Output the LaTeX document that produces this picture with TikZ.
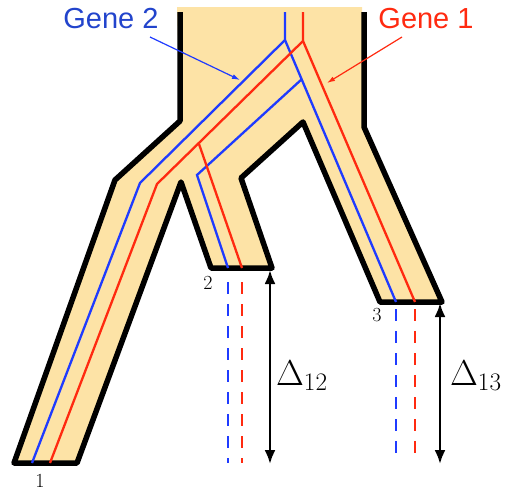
\RequirePackage{fix-cm}
\documentclass[tikz,border=0pt]{standalone}
\usepackage{fontspec}
\newfontfamily\genefont{Liberation Sans}
\usetikzlibrary{arrows.meta}
\definecolor{cfill}{HTML}{FDE3A6}
\definecolor{cblue}{HTML}{1F3BFF}
\definecolor{cred}{HTML}{FF2A10}
\definecolor{ctblue}{HTML}{2244CC}
\tikzset{
  outline/.style={draw=black, line width=5.5pt, line join=round},
  gene/.style={draw=#1, line width=2.3pt},
  stub/.style={draw=#1, line width=2.3pt, dash pattern=on 12pt off 10pt},
  span/.style={{Latex[length=14pt,width=11pt]}-{Latex[length=14pt,width=11pt]}, line width=2.5pt},
  pointer/.style={-{Latex[length=8pt,width=5pt]}, draw=#1, line width=1.2pt},
  genename/.style={font=\genefont\fontsize{29}{32}\selectfont, text=#1, anchor=base, inner sep=0pt},
  leaf/.style={font=\fontsize{20}{22}\selectfont, inner sep=0pt},
  gap/.style={font=\fontsize{36}{40}\selectfont, anchor=base west, inner sep=0pt},
}
\begin{document}
\begin{tikzpicture}[x=1pt, y=-1pt]
  \useasboundingbox (0,0) rectangle (509,491);
  % species tree
  \fill[cfill] (177,7) -- (362,7) -- (364,127) -- (442,302) -- (380,302) -- (303,122) -- (241,178)
    -- (272,268) -- (211,268) -- (181,182) -- (77,463) -- (14,463) -- (115,180) -- (180,121) -- cycle;
  \draw[outline] (180,12) -- (180,121) -- (115,180) -- (14,463) -- (77,463) -- (181,182) -- (211,268)
    -- (272,268) -- (241,178) -- (303,122) -- (380,302) -- (442,302) -- (364,127) -- (364,12);
  % gene 2
  \coordinate (b-top) at (285,12);
  \coordinate (b-root) at (285,40);
  \coordinate (b-kink) at (140,183);
  \coordinate (b-leaf1) at (32,463);
  \coordinate (b-leaf3) at (396,302);
  \coordinate (b-split) at (302,79);
  \coordinate (b-bend) at (197,175);
  \coordinate (b-leaf2) at (228,268);
  \draw[gene=cblue] (b-top) -- (b-root) -- (b-kink) -- (b-leaf1);
  \draw[gene=cblue] (b-root) -- (b-leaf3);
  \draw[gene=cblue] (b-split) -- (b-bend) -- (b-leaf2);
  % gene 1
  \coordinate (r-top) at (303,12);
  \coordinate (r-root) at (303,41);
  \coordinate (r-kink) at (157,184);
  \coordinate (r-leaf1) at (50,463);
  \coordinate (r-leaf3) at (415,302);
  \coordinate (r-split) at (199,144);
  \coordinate (r-leaf2) at (242,268);
  \draw[gene=cred] (r-top) -- (r-root) -- (r-kink) -- (r-leaf1);
  \draw[gene=cred] (r-root) -- (r-leaf3);
  \draw[gene=cred] (r-split) -- (r-leaf2);
  % missing stretches below leaves 2 and 3
  \foreach \x/\c/\y [count=\i] in {228/cblue/282, 242/cred/282, 396/cblue/309, 415/cred/309} {
    \coordinate (s\i-a) at (\x,\y);
    \coordinate (s\i-b) at (\x,463);
    \draw[stub=\c] (s\i-a) -- (s\i-b);
  }
  % depth differences
  \coordinate (d12-a) at (270,270);
  \coordinate (d12-b) at (270,464);
  \coordinate (d13-a) at (440,303);
  \coordinate (d13-b) at (440,464);
  \draw[span] (d12-a) -- (d12-b);
  \draw[span] (d13-a) -- (d13-b);
  \node[gap] (l12) at (276,385) {$\Delta_{12}$};
  \node[gap] (l13) at (450,385) {$\Delta_{13}$};
  % leaves
  \node[leaf] (n1) at (40,481) {1};
  \node[leaf] (n2) at (208,283) {2};
  \node[leaf] (n3) at (377,315) {3};
  % gene names
  \node[genename=ctblue] (g2) at (111,28) {Gene 2};
  \node[genename=cred] (g1) at (426,28) {Gene 1};
  \coordinate (g2-tip) at (240,80);
  \coordinate (g1-tip) at (327,83);
  \draw[pointer=cblue] ([xshift=39pt, yshift=-9pt]g2.base) -- (g2-tip);
  \draw[pointer=cred] ([xshift=-24pt, yshift=-9pt]g1.base) -- (g1-tip);
\end{tikzpicture}
\end{document}
